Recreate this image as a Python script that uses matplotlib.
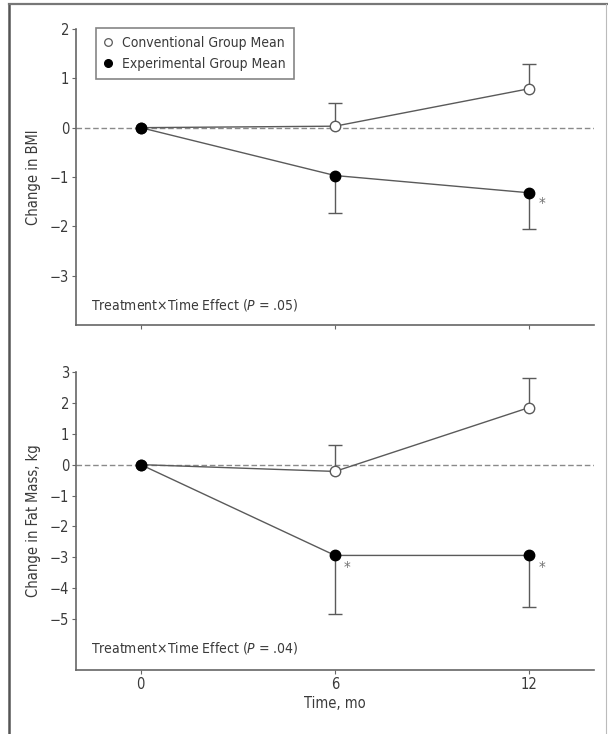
import matplotlib
matplotlib.use("Agg")
import matplotlib.pyplot as plt
from matplotlib import font_manager
from matplotlib.lines import Line2D

# pick a narrow sans font if available
names = {f.name for f in font_manager.fontManager.ttflist}
narrow = "Liberation Sans Narrow" if "Liberation Sans Narrow" in names else "DejaVu Sans"
plt.rcParams["font.family"] = [narrow, "DejaVu Sans"]
plt.rcParams["font.stretch"] = "condensed"
plt.rcParams["mathtext.fontset"] = "custom"
plt.rcParams["mathtext.rm"] = narrow
plt.rcParams["mathtext.it"] = narrow + ":italic"

# data
months = [0, 6, 12]
bmi_conv = [0, 0.03, 0.79]
bmi_conv_err = [0.46, 0.51]          # upper bars at 6 and 12 mo
bmi_exp = [0, -0.97, -1.32]
bmi_exp_err = [0.76, 0.73]           # lower bars at 6 and 12 mo
fat_conv = [0, -0.22, 1.85]
fat_conv_err = [0.85, 0.94]
fat_exp = [0, -2.94, -2.94]
fat_exp_err = [1.90, 1.68]

bmi_stars = [12]
fat_stars = [6, 12]

line_col = "#5a5a5a"
text_col = "#3a3a3a"
axis_col = "#666666"
fs = 10.5
fs_small = 10

fig = plt.figure(figsize=(6.08, 7.34), dpi=100)
ax1 = fig.add_axes([0.125, 0.5572, 0.852, 0.4033])
ax2 = fig.add_axes([0.125, 0.0872, 0.852, 0.406])


def one_sided(ax, x, y, err, sign):
    # error bar drawn only on one side of the mean, with a cap at the far end
    ends = [v + sign * e for v, e in zip(y, err)]
    ax.vlines(x, y, ends, color=line_col, lw=1, zorder=2)
    ax.plot(x, ends, ls="none", marker="_", ms=10, mew=1, color=line_col, zorder=2)


def panel(ax, conv, conv_err, exp, exp_err, stars, star_y, ylim, yticks, ylabel, ptext, text_y):
    ax.axhline(0, color="#8a8a8a", lw=1, ls=(0, (4, 2)), zorder=1)
    one_sided(ax, months[1:], conv[1:], conv_err, 1)
    one_sided(ax, months[1:], exp[1:], exp_err, -1)
    ax.plot(months, conv, color=line_col, lw=1, marker="o", ms=7.5,
            mfc="white", mec=line_col, mew=1, zorder=3)
    ax.plot(months, exp, color=line_col, lw=1, marker="o", ms=7.5,
            mfc="black", mec="black", zorder=4)
    for sx in stars:
        ax.text(sx + 0.38, star_y, "*", color="#707070", fontsize=11,
                ha="center", va="center")
    ax.set_xlim(-2, 14)
    ax.set_ylim(*ylim)
    ax.set_yticks(yticks)
    ax.set_yticklabels([str(t).replace("-", "\u2212") for t in yticks])
    ax.set_xticks(months)
    for s in ["top", "right"]:
        ax.spines[s].set_visible(False)
    for s in ["left", "bottom"]:
        ax.spines[s].set_color(axis_col)
        ax.spines[s].set_linewidth(1.2)
    ax.spines["left"].set_bounds(ylim[0], yticks[-1])
    ax.tick_params(length=3, width=0.8, color=axis_col, labelcolor=text_col,
                   labelsize=fs, pad=2)
    ax.set_ylabel(ylabel, color=text_col, fontsize=fs, labelpad=6)
    ax.text(-1.55, text_y, ptext, color=text_col, fontsize=fs_small, va="center")


panel(ax1, bmi_conv, bmi_conv_err, bmi_exp, bmi_exp_err, bmi_stars, -1.55,
      (-4, 2), [-3, -2, -1, 0, 1, 2], "Change in BMI",
      "Treatment\u00d7Time Effect ($\\it{P}$ = .05)", -3.59)
ax1.set_xticklabels([])

panel(ax2, fat_conv, fat_conv_err, fat_exp, fat_exp_err, fat_stars, -3.36,
      (-6.65, 3), [-5, -4, -3, -2, -1, 0, 1, 2, 3], "Change in Fat Mass, kg",
      "Treatment\u00d7Time Effect ($\\it{P}$ = .04)", -5.95)
ax2.set_xlabel("Time, mo", color=text_col, fontsize=fs, labelpad=3)

handles = [
    Line2D([], [], ls="none", marker="o", ms=5.5, mfc="white", mec=line_col, mew=0.9),
    Line2D([], [], ls="none", marker="o", ms=5.5, mfc="black", mec="black"),
]
leg = ax1.legend(handles, ["Conventional Group Mean", "Experimental Group Mean"],
                 loc="upper left", bbox_to_anchor=(0.038, 1.005), fontsize=fs_small,
                 frameon=True, fancybox=False, handlelength=0.6, handletextpad=0.7,
                 borderpad=0.6, labelspacing=0.5, borderaxespad=0)
leg.get_frame().set_edgecolor("#666666")
leg.get_frame().set_linewidth(1.2)
for t in leg.get_texts():
    t.set_color(text_col)

# frame around the figure
fig.add_artist(Line2D([9 / 608, 9 / 608], [0, 1 - 4 / 734], color="#555555", lw=1.8,
                      transform=fig.transFigure))
fig.add_artist(Line2D([9 / 608, 1], [1 - 4 / 734, 1 - 4 / 734], color="#777777", lw=1.6,
                      transform=fig.transFigure))
fig.add_artist(Line2D([606 / 608, 606 / 608], [0, 1 - 4 / 734], color="#bbbbbb", lw=0.8,
                      transform=fig.transFigure))

fig.savefig("out.png", dpi=100)
